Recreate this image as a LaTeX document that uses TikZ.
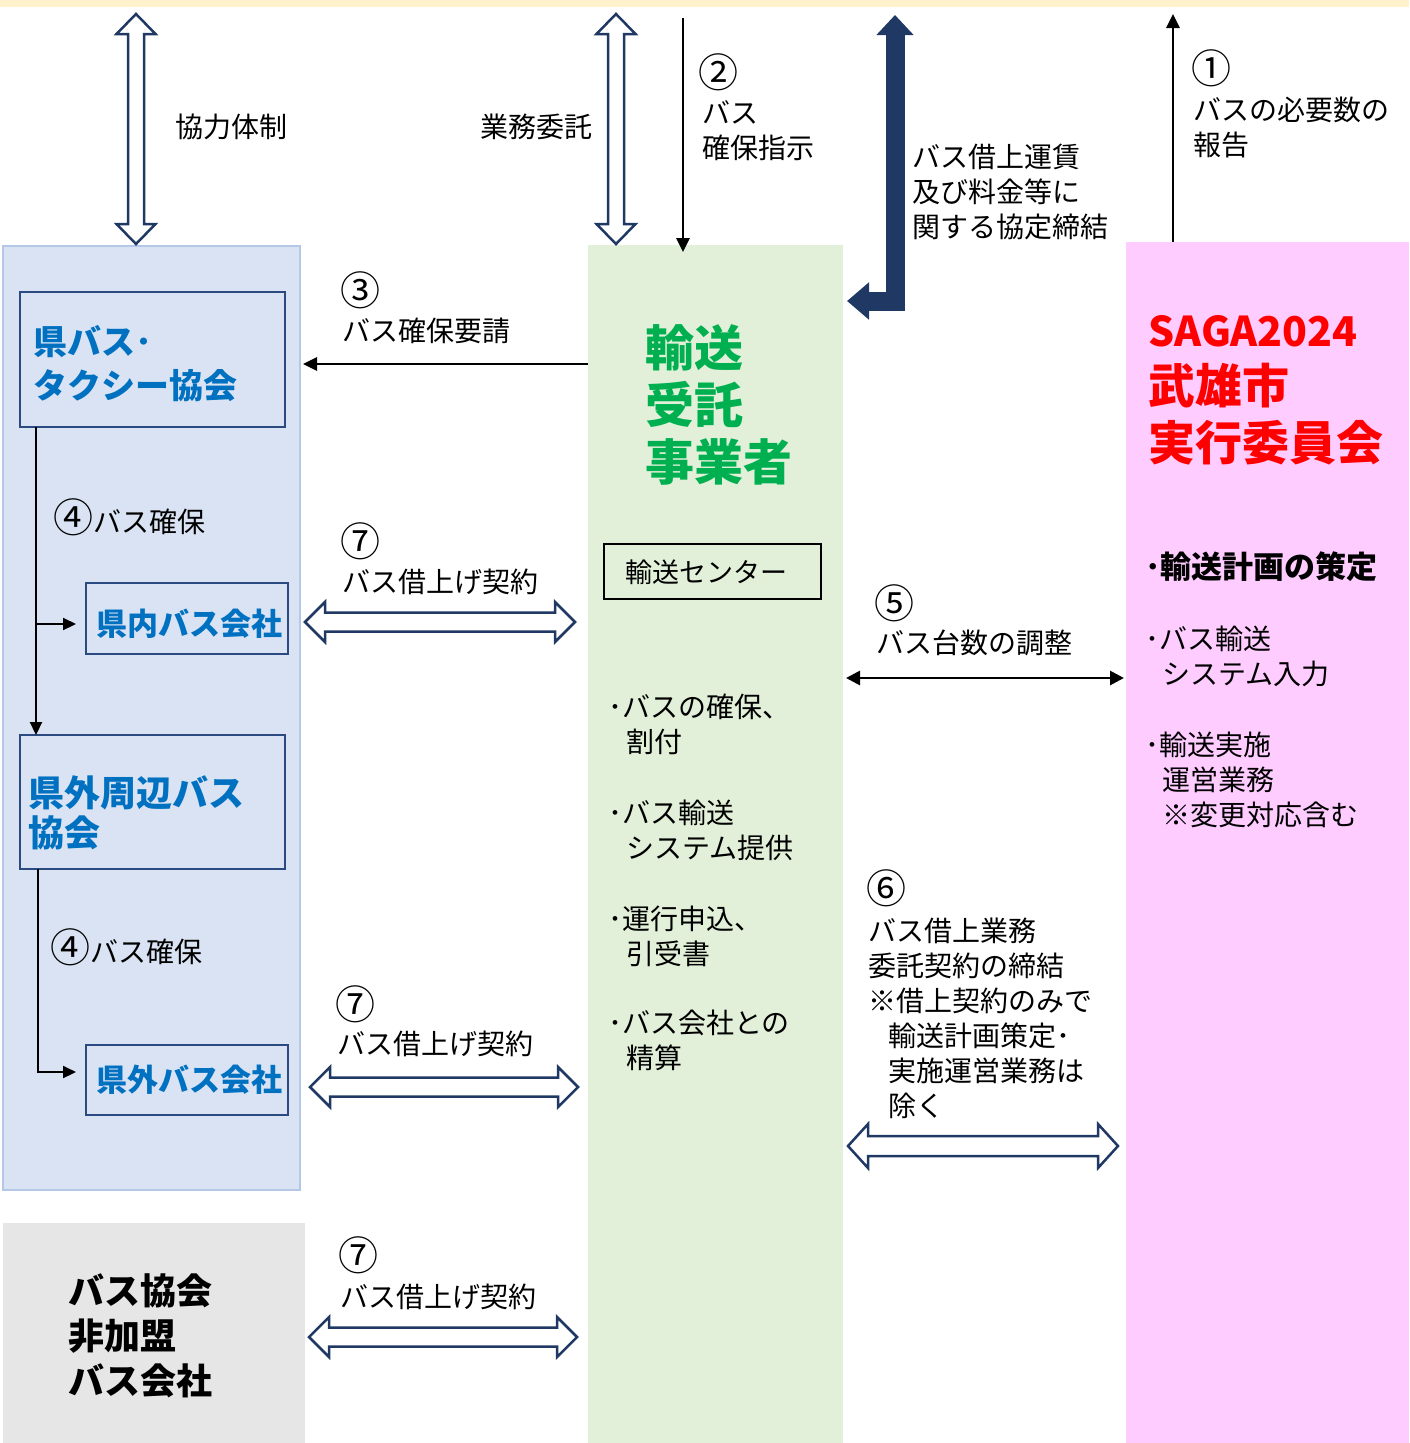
\documentclass[tikz,border=0pt]{standalone}
\usepackage{fontspec}
\setmainfont{Noto Sans CJK JP}
\usetikzlibrary{arrows.meta,calc}
\definecolor{topbar}{HTML}{FFF2CC}
\definecolor{lpanel}{HTML}{DAE3F3}
\definecolor{lpanelb}{HTML}{B4C7E7}
\definecolor{boxb}{HTML}{2B4A80}
\definecolor{bluetxt}{HTML}{0070C0}
\definecolor{grayp}{HTML}{E7E6E6}
\definecolor{greenp}{HTML}{E2F0D9}
\definecolor{greentxt}{HTML}{00B050}
\definecolor{pinkp}{HTML}{FFCCFF}
\definecolor{redtxt}{HTML}{FF0000}
\definecolor{navy}{HTML}{203864}
\newcommand{\hollowH}[4]{%
\draw[hollowarr] let \p1=(#1), \p2=(#2) in (\x1,\y1) -- (\x1+20pt,\y1+#4) -- (\x1+20pt,\y1+#3) -- (\x2-20pt,\y1+#3) -- (\x2-20pt,\y1+#4) -- (\x2,\y1) -- (\x2-20pt,\y1-#4) -- (\x2-20pt,\y1-#3) -- (\x1+20pt,\y1-#3) -- (\x1+20pt,\y1-#4) -- cycle;}
\newcommand{\hollowV}[4]{%
\draw[hollowarr] let \p1=(#1), \p2=(#2) in (\x1,\y1) -- (\x1+#4,\y1-20pt) -- (\x1+#3,\y1-20pt) -- (\x1+#3,\y2+20pt) -- (\x1+#4,\y2+20pt) -- (\x1,\y2) -- (\x1-#4,\y2+20pt) -- (\x1-#3,\y2+20pt) -- (\x1-#3,\y1-20pt) -- (\x1-#4,\y1-20pt) -- cycle;}
\begin{document}
\begin{tikzpicture}[x=1pt,y=-1pt,
  panel/.style={anchor=north west,inner sep=0pt,outer sep=0pt},
  txt/.style={font=\fontsize{28}{35}\selectfont,align=left,inner sep=0pt,anchor=west},
  circ/.style={font=\fontsize{40}{40}\selectfont,inner sep=0pt,anchor=west},
  bluehead/.style={font=\bfseries\fontsize{34}{44}\selectfont,text=bluetxt,align=left,inner sep=0pt,anchor=west},
  hollowarr/.style={draw=navy,line width=2.5pt,fill=white,line join=miter},
  blk/.style={draw=black,line width=2.8pt,-{Triangle[length=14pt,width=13pt]}},
  blkthin/.style={draw=black,line width=2.2pt,-{Triangle[length=13pt,width=12pt]}}
]
\useasboundingbox (0,0) rectangle (1409,1443);
% panels
\node[panel,fill=topbar,minimum width=1409pt,minimum height=7pt] (bar) at (0,0) {};
\node[panel,fill=lpanel,draw=lpanelb,line width=2.5pt,minimum width=297pt,minimum height=944pt] (leftp) at (3,246) {};
\node[panel,fill=grayp,minimum width=302pt,minimum height=220pt] (grayp) at (3,1223) {};
\node[panel,fill=greenp,minimum width=255pt,minimum height=1198pt] (greenp) at (588,245) {};
\node[panel,fill=pinkp,minimum width=283pt,minimum height=1201pt] (pinkp) at (1126,242) {};
% boxes in left panel
\node[panel,draw=boxb,line width=2.5pt,minimum width=265pt,minimum height=135pt] (kenbus) at (20,292) {};
\node[panel,draw=boxb,line width=2.5pt,minimum width=202pt,minimum height=71pt] (kennai) at (86,583) {};
\node[panel,draw=boxb,line width=2.5pt,minimum width=265pt,minimum height=134pt] (kengai) at (20,735) {};
\node[panel,draw=boxb,line width=2.5pt,minimum width=202pt,minimum height=70pt] (kengaibus) at (86,1045) {};
\node[panel,draw=black,line width=2pt,minimum width=217pt,minimum height=55pt] (center) at (604,544) {};
% texts in boxes
\node[bluehead] (tkenbus) at (33,364) {県バス･\\タクシー協会};
\node[bluehead,font=\bfseries\fontsize{36}{40}\selectfont] (tkengai) at (28,813) {県外周辺バス\\協会};
\node[bluehead,font=\bfseries\fontsize{31}{31}\selectfont] (tkennai) at (96,624) {県内バス会社};
\node[bluehead,font=\bfseries\fontsize{31}{31}\selectfont] (tkengaibus) at (96,1080) {県外バス会社};
\node[txt,font=\bfseries\fontsize{36}{45}\selectfont] (tgray) at (68,1336) {バス協会\\非加盟\\バス会社};
\node[txt,font=\bfseries\fontsize{49}{57}\selectfont,text=greentxt] (tgreen) at (645,405) {輸送\\受託\\事業者};
\node[txt,font=\fontsize{27}{35}\selectfont] (tcenter) at (625,572) {輸送センター};
\node[txt] (g1) at (608,724) {･バスの確保、\\\hspace*{18pt}割付};
\node[txt] (g2) at (608,830) {･バス輸送\\\hspace*{18pt}システム提供};
\node[txt] (g3) at (608,936) {･運行申込、\\\hspace*{18pt}引受書};
\node[txt] (g4) at (608,1040) {･バス会社との\\\hspace*{18pt}精算};
\node[txt,font=\bfseries\fontsize{47}{57}\selectfont,text=redtxt] (tred) at (1148,390) {{\fontsize{41}{41}\selectfont SAGA2024}\\武雄市\\実行委員会};
\node[txt,font=\bfseries\fontsize{31}{35}\selectfont] (p1) at (1145,567) {･輸送計画の策定};
\node[txt] (p2) at (1145,656) {･バス輸送\\\hspace*{17pt}システム入力};
\node[txt] (p3) at (1145,780) {･輸送実施\\\hspace*{17pt}運営業務\\\hspace*{17pt}※変更対応含む};
% labels
\node[txt] (lkyo) at (175,127) {協力体制};
\node[txt] (lgyo) at (480,127) {業務委託};
\node[circ] (c2) at (698,72) {②};
\node[txt] (l2) at (702,131) {バス\\確保指示};
\node[txt] (lkyotei) at (912,192) {バス借上運賃\\及び料金等に\\関する協定締結};
\node[circ] (c1) at (1191,68) {①};
\node[txt] (l1) at (1193,127) {バスの必要数の\\報告};
\node[circ] (c3) at (340,290) {③};
\node[txt] (l3) at (342,331) {バス確保要請};
\node[txt] (l4a) at (53,517) {{\fontsize{40}{40}\selectfont ④}バス確保};
\node[txt] (l4b) at (50,947) {{\fontsize{40}{40}\selectfont ④}バス確保};
\node[circ] (c7a) at (340,541) {⑦};
\node[txt] (l7a) at (342,582) {バス借上げ契約};
\node[circ] (c7b) at (335,1004) {⑦};
\node[txt] (l7b) at (337,1044) {バス借上げ契約};
\node[circ] (c7c) at (338,1255) {⑦};
\node[txt] (l7c) at (340,1297) {バス借上げ契約};
\node[circ] (c5) at (874,603) {⑤};
\node[txt] (l5) at (876,643) {バス台数の調整};
\node[circ] (c6) at (866,888) {⑥};
\node[txt] (l6) at (868,1018) {バス借上業務\\委託契約の締結\\※借上契約のみで\\\hspace*{20pt}輸送計画策定･\\\hspace*{20pt}実施運営業務は\\\hspace*{20pt}除く};
% coordinates for connectors
\coordinate (v1t) at (136,14); \coordinate (v1b) at (136,244);
\coordinate (v2t) at (616,14); \coordinate (v2b) at (616,244);
\coordinate (a2t) at (683,18); \coordinate (a2b) at (683,252);
\coordinate (a1t) at (1173,14); \coordinate (a1b) at (1173,242);
\coordinate (thT) at (895,15); \coordinate (thC) at (895,301); \coordinate (thL) at (847,301);
\coordinate (a3s) at (588,364); \coordinate (a3e) at (303,364);
\coordinate (a5l) at (846,678); \coordinate (a5r) at (1124,678);
\coordinate (h6l) at (848,1146); \coordinate (h6r) at (1118,1146);
\coordinate (h7al) at (305,622); \coordinate (h7ar) at (575,622);
\coordinate (h7bl) at (310,1087); \coordinate (h7br) at (578,1087);
\coordinate (h7cl) at (309,1337); \coordinate (h7cr) at (577,1337);
\coordinate (b1) at (36,624); \coordinate (b1e) at (76,624);
\coordinate (b2) at (38,1072); \coordinate (b2e) at (76,1072);
% connectors
\hollowV{v1t}{v1b}{8pt}{19.5pt}
\hollowV{v2t}{v2b}{8pt}{19.5pt}
\hollowH{h7al}{h7ar}{9.5pt}{20pt}
\hollowH{h7bl}{h7br}{9.5pt}{20pt}
\hollowH{h7cl}{h7cr}{9.5pt}{20pt}
\hollowH{h6l}{h6r}{10pt}{22pt}
\draw[blk] (a2t) -- (a2b);
\draw[blk] (a1b) -- (a1t);
\draw[blk] (a3s) -- (a3e);
\draw[blk,{Triangle[length=14pt,width=14pt]}-{Triangle[length=14pt,width=14pt]}] (a5l) -- (a5r);
\draw[navy,line width=19pt,line join=miter,{Triangle[length=20pt,width=36pt]}-{Triangle[length=22pt,width=36pt]}] (thT) -- (thC) -- (thL);
\draw[blkthin] ([xshift=16pt]kenbus.south west) -- ([xshift=16pt]kengai.north west);
\draw[blkthin] (b1) -- (b1e);
\draw[blkthin] ([xshift=18pt]kengai.south west) |- (b2e);
\end{tikzpicture}
\end{document}
